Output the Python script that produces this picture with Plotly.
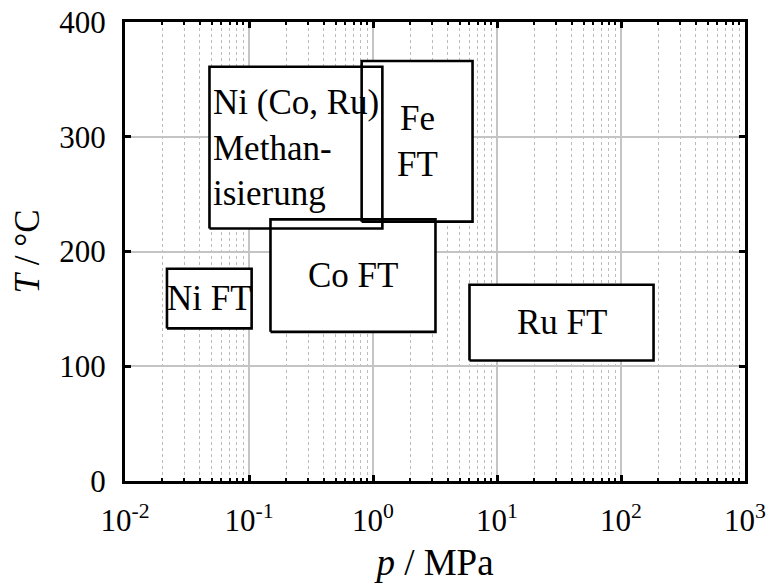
import math
import plotly.graph_objects as go

# Operating windows of catalytic CO hydrogenation (pressure p in MPa, temperature T in °C)
labels = ["Ni (Co, Ru)<br>Methan-<br>isierung", "Fe<br>FT", "Co FT", "Ni FT", "Ru FT"]
p_low = [0.048, 0.81, 0.149, 0.0218, 6.0]
p_high = [1.19, 6.35, 3.19, 0.105, 183.0]
T_low = [220, 226, 130, 133, 105]
T_high = [361, 366, 228, 185, 171]
label_align = ["left", "center", "center", "center", "center"]

x_ticks = [1e-2, 1e-1, 1e0, 1e1, 1e2, 1e3]
x_ticktext = ["10<sup>-2</sup>", "10<sup>-1</sup>", "10<sup>0</sup>",
              "10<sup>1</sup>", "10<sup>2</sup>", "10<sup>3</sup>"]
x_minor = [k * 10.0 ** e for e in range(-2, 3) for k in range(2, 10)]
y_ticks = [0, 100, 200, 300, 400]

FONT = "Liberation Serif, Times New Roman, DejaVu Serif, serif"

fig = go.Figure()

def outline(i):
    xs = [p_low[i], p_high[i], p_high[i], p_low[i], p_low[i]]
    ys = [T_low[i], T_low[i], T_high[i], T_high[i], T_low[i]]
    return xs, ys

# white fills first, so every outline stays visible where regions overlap
for i in range(len(labels)):
    xs, ys = outline(i)
    fig.add_trace(go.Scatter(x=xs, y=ys, mode="lines", fill="toself",
                             fillcolor="white", line=dict(width=0, color="white"),
                             hoverinfo="skip", showlegend=False))
for i in range(len(labels)):
    xs, ys = outline(i)
    fig.add_trace(go.Scatter(x=xs, y=ys, mode="lines",
                             line=dict(width=2.6, color="black"),
                             hoverinfo="skip", showlegend=False))

# region names, centred in each box
for i, name in enumerate(labels):
    xc = (math.log10(p_low[i]) + math.log10(p_high[i])) / 2
    yc = (T_low[i] + T_high[i]) / 2
    fig.add_annotation(x=xc, y=yc, xref="x", yref="y", text=name,
                       showarrow=False, align=label_align[i],
                       xanchor="center", yanchor="middle",
                       font=dict(family=FONT, size=35, color="black"))

fig.update_layout(
    width=766, height=583,
    margin=dict(l=125, r=21, t=22, b=102),
    paper_bgcolor="white", plot_bgcolor="white",
    font=dict(family=FONT, color="black"),
    showlegend=False,
)

fig.update_xaxes(
    type="log", range=[-2, 3], automargin=False,
    tickmode="array", tickvals=x_ticks, ticktext=x_ticktext,
    tickfont=dict(family=FONT, size=31, color="black"),
    ticks="inside", ticklen=6, tickwidth=2.5, tickcolor="black",
    showline=True, linewidth=3, linecolor="black", mirror="ticks",
    showgrid=True, gridcolor="#c4c4c4", gridwidth=1.5,
    minor=dict(tickmode="array", tickvals=x_minor, ticks="inside",
               ticklen=3, tickwidth=1.5, tickcolor="black",
               showgrid=True, gridcolor="#bcbcbc", griddash="dot", gridwidth=1),
    ticklabelstandoff=10,
    title=dict(text="<i>p</i> / MPa", font=dict(family=FONT, size=37), standoff=12),
    zeroline=False,
)

fig.update_yaxes(
    range=[0, 400], automargin=False,
    tickmode="array", tickvals=y_ticks,
    tickfont=dict(family=FONT, size=31, color="black"),
    ticks="inside", ticklen=6, tickwidth=2.5, tickcolor="black",
    showline=True, linewidth=3, linecolor="black", mirror="ticks",
    showgrid=True, gridcolor="#c4c4c4", gridwidth=1.5,
    ticklabelstandoff=10,
    title=dict(text="<i>T</i> / °C", font=dict(family=FONT, size=35), standoff=10),
    zeroline=False,
)

fig.write_html("out.html")
